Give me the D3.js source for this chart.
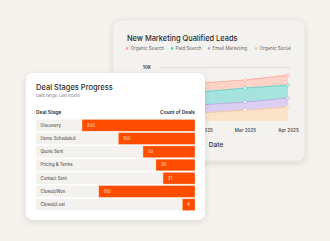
<!DOCTYPE html>
<html>
<head>
<meta charset="utf-8">
<script src="https://cdn.jsdelivr.net/npm/d3@7"></script>
<style>
  body { margin: 0; background: #f6f3ee; font-family: Inter, "Noto Sans", sans-serif; }
  svg { display: block; }
</style>
</head>
<body>
<div id="chart"></div>
<script>
// leads chart data (stacked areas, bottom series first)
var months = ["Jan 2025", "Feb 2025", "Mar 2025", "Apr 2025"];
var organicSocial = [900, 1500, 2000, 2600];
var emailMarketing = [1500, 1500, 1500, 1650];
var paidSearch = [2400, 2400, 2600, 2400];
var organicSearch = [1700, 1650, 1500, 1850];
var leadTicks = [10000];

// deal stages data
var stages = ["Discovery", "Demo Scheduled", "Quote Sent", "Pricing & Terms", "Contact Sent", "Closed/Won", "Closed/Lost"];
var dealCounts = [200, 100, 50, 30, 21, 150, 4];

var W = 330, H = 241;
var svg = d3.select("#chart").append("svg")
  .attr("width", W)
  .attr("height", H);

var defs = svg.append("defs");
var shadow = defs.append("filter").attr("id", "shadow")
  .attr("x", "-20%").attr("y", "-20%").attr("width", "140%").attr("height", "140%");
shadow.append("feDropShadow")
  .attr("dx", 0).attr("dy", 2).attr("stdDeviation", 3)
  .attr("flood-color", "#000").attr("flood-opacity", 0.12);

// ---------- back card: marketing leads ----------
var back = svg.append("g");
back.append("rect")
  .attr("x", 113).attr("y", 20).attr("width", 192).attr("height", 141)
  .attr("rx", 7)
  .attr("fill", "#f4f2ee")
  .attr("stroke", "#e9e5de")
  .attr("filter", "url(#shadow)");

back.append("text")
  .attr("x", 127).attr("y", 41)
  .attr("font-size", 7.4).attr("font-weight", 500).attr("fill", "#2b2b2b")
  .text("New Marketing Qualified Leads");

var series = [
  {name: "Organic Search", values: organicSearch, fill: "#fcd3c6", line: "#f9a58e"},
  {name: "Paid Search", values: paidSearch, fill: "#a5e3df", line: "#4fd0c9"},
  {name: "Email Marketing", values: emailMarketing, fill: "#dacff0", line: "#b6a3e0"},
  {name: "Organic Social", values: organicSocial, fill: "#fae3c8", line: "#f6c795"}
];

var legendX = [127, 172, 209, 256];
var legend = back.selectAll(".legend").data(series).enter().append("g")
  .attr("transform", function(d, i) { return "translate(" + legendX[i] + ",50)"; });
legend.append("circle").attr("r", 1.3).attr("cy", -1.6).attr("fill", function(d) { return d.line; });
legend.append("text").attr("x", 3.5)
  .attr("font-size", 4.6).attr("fill", "#666")
  .text(function(d) { return d.name; });

var x = d3.scalePoint().domain(months).range([159, 288]);
var y = d3.scaleLinear().domain([0, 10000]).range([121, 67]);

var yAxis = back.append("g")
  .attr("transform", "translate(159,0)")
  .call(d3.axisLeft(y).tickValues(leadTicks).tickSize(-131)
    .tickFormat(function(d) { return d3.format(".0s")(d).replace("k", "K"); }));
yAxis.select(".domain").remove();
yAxis.selectAll("line").attr("stroke", "#e2ded7");
yAxis.selectAll("text").attr("x", -8).attr("font-size", 4.6).attr("font-weight", 600)
  .attr("fill", "#333").attr("font-family", "Inter, sans-serif");

// stack bottom-up: organic social, email, paid, organic search
var rows = months.map(function(m, i) {
  return {month: m, "Organic Social": organicSocial[i], "Email Marketing": emailMarketing[i],
    "Paid Search": paidSearch[i], "Organic Search": organicSearch[i]};
});
var keys = ["Organic Social", "Email Marketing", "Paid Search", "Organic Search"];
var stacked = d3.stack().keys(keys)(rows);
var styleOf = {};
series.forEach(function(s) { styleOf[s.name] = s; });

var area = d3.area()
  .x(function(d) { return x(d.data.month); })
  .y0(function(d) { return y(d[0]); })
  .y1(function(d) { return y(d[1]); });
var line = d3.line()
  .x(function(d) { return x(d.data.month); })
  .y(function(d) { return y(d[1]); });

back.selectAll(".area").data(stacked).enter().append("path")
  .attr("d", area)
  .attr("fill", function(d) { return styleOf[d.key].fill; });
back.selectAll(".line").data(stacked).enter().append("path")
  .attr("d", line)
  .attr("fill", "none")
  .attr("stroke-width", 0.8)
  .attr("stroke", function(d) { return styleOf[d.key].line; });
stacked.forEach(function(layer) {
  back.selectAll(null).data(layer).enter().append("circle")
    .attr("cx", function(d) { return x(d.data.month); })
    .attr("cy", function(d) { return y(d[1]); })
    .attr("r", 1.5)
    .attr("fill", "#fff")
    .attr("stroke-width", 0.7)
    .attr("stroke", styleOf[layer.key].line);
});

var xAxis = back.append("g")
  .attr("transform", "translate(0,121)")
  .call(d3.axisBottom(x).tickSize(0).tickPadding(8));
xAxis.select(".domain").remove();
xAxis.selectAll("text").attr("font-size", 4.6).attr("font-weight", 500)
  .attr("fill", "#444").attr("font-family", "Inter, sans-serif");

back.append("text")
  .attr("x", 216).attr("y", 147)
  .attr("text-anchor", "middle")
  .attr("font-size", 6.6).attr("font-weight", 500).attr("fill", "#333")
  .text("Date");

// ---------- front card: deal stages ----------
var front = svg.append("g");
front.append("rect")
  .attr("x", 26).attr("y", 73).attr("width", 179).attr("height", 147)
  .attr("rx", 7)
  .attr("fill", "#fff")
  .attr("filter", "url(#shadow)");

front.append("text")
  .attr("x", 36).attr("y", 89.5)
  .attr("font-size", 7.5).attr("font-weight", 500).attr("fill", "#2b2b2b")
  .text("Deal Stages Progress");
front.append("text")
  .attr("x", 36).attr("y", 97)
  .attr("font-size", 4).attr("fill", "#777")
  .text("Date range: Last month");
front.append("text")
  .attr("x", 36).attr("y", 114)
  .attr("font-size", 4.9).attr("font-weight", 600).attr("fill", "#2b2b2b")
  .text("Deal Stage");
front.append("text")
  .attr("x", 195).attr("y", 114)
  .attr("text-anchor", "end")
  .attr("font-size", 4.9).attr("font-weight", 600).attr("fill", "#2b2b2b")
  .text("Count of Deals");

var band = d3.scaleBand().domain(stages).range([119.5, 210.5]).paddingInner(0.12);
var w = d3.scalePow().exponent(0.56).domain([0, 200]).range([0, 113]);
var right = 195, left = 36;

var row = front.selectAll(".row").data(stages).enter().append("g")
  .attr("transform", function(d) { return "translate(0," + band(d) + ")"; });
row.append("rect")
  .attr("x", left).attr("width", right - left).attr("height", band.bandwidth())
  .attr("fill", "#f4f2ee");
row.append("rect")
  .attr("x", function(d, i) { return right - w(dealCounts[i]); })
  .attr("width", function(d, i) { return w(dealCounts[i]); })
  .attr("height", band.bandwidth())
  .attr("fill", "#ff4d00")
  .attr("stroke", "#ffd2bd").attr("stroke-width", 0.4);
row.append("text")
  .attr("x", left + 4.5).attr("y", band.bandwidth() / 2 + 1.5)
  .attr("font-size", 4.3).attr("fill", "#333")
  .text(function(d) { return d; });
row.append("text")
  .attr("x", function(d, i) { return right - w(dealCounts[i]) + (dealCounts[i] < 10 ? w(dealCounts[i]) / 2 : 5); })
  .attr("text-anchor", function(d, i) { return dealCounts[i] < 10 ? "middle" : "start"; })
  .attr("y", band.bandwidth() / 2 + 1.5)
  .attr("font-size", 4.2).attr("fill", "#ffe7dc")
  .text(function(d, i) { return dealCounts[i]; });
</script>
</body>
</html>
